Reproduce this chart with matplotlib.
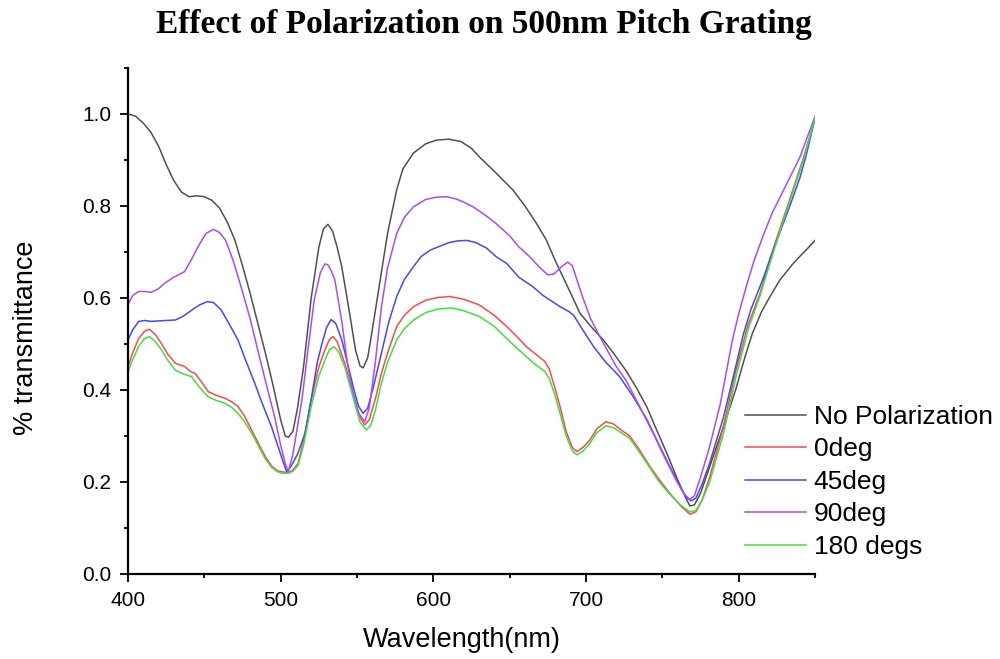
import matplotlib
matplotlib.use('Agg')
import matplotlib.pyplot as plt
from matplotlib.ticker import MultipleLocator

plt.rcParams['font.family'] = ['Liberation Sans', 'DejaVu Sans']

# No Polarization
wl_none = [400, 405, 410, 415, 420, 425, 430, 435, 440, 445, 450, 455, 460, 465, 470, 475, 480, 485, 490, 495,
           500, 503, 505, 508, 511, 515, 520, 525, 528, 531, 534, 537, 540, 545, 549, 552, 554, 557, 560, 565,
           570, 576, 580, 587, 595, 602, 610, 618, 625, 630, 640, 652, 660, 667, 674, 680, 685, 690, 696, 704,
           711, 718, 726, 733, 740, 746, 753, 760, 765, 768, 771, 775, 781, 790, 798, 804, 809, 815, 820, 827,
           835, 840, 845, 850]
t_none = [1.0, 0.995, 0.98, 0.96, 0.93, 0.89, 0.855, 0.83, 0.82, 0.822, 0.82, 0.812, 0.795, 0.765, 0.726, 0.67, 0.61, 0.545, 0.48, 0.41,
          0.335, 0.30, 0.297, 0.31, 0.36, 0.45, 0.60, 0.71, 0.75, 0.76, 0.745, 0.71, 0.668, 0.57, 0.487, 0.452, 0.448, 0.47, 0.53, 0.635,
          0.74, 0.835, 0.88, 0.915, 0.935, 0.943, 0.945, 0.94, 0.925, 0.907, 0.875, 0.835, 0.80, 0.765, 0.726, 0.68, 0.645, 0.61, 0.567, 0.535,
          0.51, 0.48, 0.443, 0.405, 0.362, 0.315, 0.262, 0.205, 0.168, 0.148, 0.15, 0.175, 0.233, 0.32, 0.40, 0.47, 0.523, 0.57, 0.60, 0.639,
          0.672, 0.69, 0.707, 0.725]

# 0deg
wl_0 = [400, 403, 407, 411, 414, 418, 422, 426, 431, 437, 441, 444, 448, 452.6, 458, 463.5, 468, 472, 476, 481,
        486, 490, 494, 498, 501, 505, 508, 511.5, 515, 520, 525, 529, 532, 534.4, 537, 542, 548.6, 552, 555, 558,
        562, 566, 570, 576, 581, 587, 595, 603, 611, 620, 630, 640, 648, 655, 661, 667, 673, 676, 680, 683,
        687, 691, 694, 698, 702.5, 707, 713, 718, 723, 728.6, 735, 742, 748, 755, 762, 768, 772, 776, 781, 790,
        798, 806, 814, 820, 828, 835, 842, 850]
t_0 = [0.451, 0.48, 0.512, 0.528, 0.532, 0.52, 0.50, 0.478, 0.458, 0.451, 0.44, 0.436, 0.418, 0.396, 0.388, 0.382, 0.374, 0.364, 0.345, 0.313,
       0.28, 0.255, 0.235, 0.224, 0.222, 0.22, 0.226, 0.241, 0.29, 0.378, 0.45, 0.487, 0.51, 0.516, 0.505, 0.458, 0.378, 0.34, 0.324, 0.335,
       0.38, 0.436, 0.48, 0.538, 0.562, 0.581, 0.595, 0.601, 0.603, 0.597, 0.585, 0.562, 0.538, 0.515, 0.494, 0.478, 0.462, 0.445, 0.40, 0.364,
       0.31, 0.275, 0.266, 0.275, 0.291, 0.315, 0.331, 0.326, 0.313, 0.30, 0.27, 0.233, 0.205, 0.175, 0.148, 0.13, 0.135, 0.16, 0.21, 0.32,
       0.44, 0.54, 0.61, 0.68, 0.76, 0.83, 0.90, 0.99]

# 45deg
wl_45 = [400, 403, 407, 411, 415, 420, 425, 431, 436, 442, 447, 452, 456, 461, 466, 472, 477, 483, 488, 494,
         498, 502, 504, 507, 511, 516, 520, 524, 527, 530, 533, 536, 540, 544, 548.6, 551, 554, 557, 561, 566,
         571, 576, 581, 587, 592, 598, 604, 610, 616, 622, 628, 635, 641, 648, 656, 665, 672, 678, 683, 689,
         692, 697, 705, 713, 722, 731, 740, 748, 755, 762, 766, 769, 772, 776, 781, 790, 798, 803, 808, 814,
         818, 825, 833, 840, 844, 850]
t_45 = [0.509, 0.53, 0.549, 0.551, 0.549, 0.55, 0.551, 0.552, 0.56, 0.574, 0.585, 0.592, 0.59, 0.574, 0.545, 0.509, 0.465, 0.415, 0.37, 0.32,
        0.28, 0.24, 0.222, 0.235, 0.26, 0.306, 0.38, 0.46, 0.50, 0.535, 0.553, 0.545, 0.509, 0.455, 0.393, 0.365, 0.349, 0.36, 0.41, 0.48,
        0.55, 0.603, 0.64, 0.668, 0.69, 0.704, 0.712, 0.72, 0.724, 0.725, 0.72, 0.708, 0.69, 0.675, 0.645, 0.625, 0.605, 0.592, 0.581, 0.57,
        0.562, 0.535, 0.494, 0.46, 0.429, 0.385, 0.335, 0.28, 0.233, 0.188, 0.165, 0.159, 0.165, 0.195, 0.241, 0.34, 0.45, 0.52, 0.575, 0.625,
        0.66, 0.725, 0.795, 0.86, 0.907, 0.99]

# 90deg
wl_90 = [400, 403, 407, 411, 415, 420, 424, 430, 437, 441, 446, 451, 456, 460, 464, 469, 474, 480, 485, 490,
         496, 500, 503, 505, 508, 511, 514, 518, 522, 526, 529, 531, 533, 535.5, 540, 544, 548, 551, 555, 558,
         562, 566, 570, 576, 581, 587, 595, 602, 609, 615, 620, 626, 634, 641, 650, 656, 663, 670, 675, 679,
         684, 688, 691, 694, 698, 703, 709, 715, 720, 726, 735, 744, 752, 759, 764, 768, 771, 775, 781, 788,
         792, 796, 800, 805, 810, 816, 822, 828, 834, 840, 845, 850]
t_90 = [0.585, 0.605, 0.614, 0.614, 0.612, 0.62, 0.632, 0.645, 0.657, 0.68, 0.712, 0.74, 0.749, 0.742, 0.725, 0.68, 0.625, 0.555, 0.487, 0.42,
        0.342, 0.28, 0.24, 0.222, 0.26, 0.32, 0.38, 0.49, 0.596, 0.655, 0.674, 0.672, 0.66, 0.639, 0.55, 0.451, 0.385, 0.35, 0.331, 0.36,
        0.46, 0.58, 0.665, 0.74, 0.775, 0.798, 0.814, 0.819, 0.82, 0.815, 0.808, 0.798, 0.78, 0.762, 0.735, 0.711, 0.69, 0.665, 0.65, 0.652,
        0.668, 0.678, 0.67, 0.64, 0.60, 0.555, 0.516, 0.48, 0.45, 0.422, 0.365, 0.306, 0.25, 0.204, 0.175, 0.162, 0.17, 0.21, 0.277, 0.37,
        0.44, 0.51, 0.565, 0.625, 0.68, 0.735, 0.785, 0.825, 0.865, 0.905, 0.95, 0.994]

# 180 degs
wl_180 = [400, 403, 407, 411, 414, 418, 422, 426, 431, 436, 441.7, 447, 452.6, 458, 463.5, 468, 472, 476, 481, 486,
          490, 494, 498, 501, 505, 508, 511.5, 515, 520, 525, 529, 532, 535, 538, 542, 548.6, 552, 556, 559, 562,
          566, 570, 576, 581, 587, 595, 603, 612, 620, 630, 640, 648, 655, 661, 667, 673, 676, 680, 683, 687,
          691, 694, 698, 702.5, 707, 713, 718, 723, 728.6, 735, 742, 748, 755, 762, 768, 772, 776, 781, 790, 798,
          806, 814, 820, 828, 835, 842, 850]
t_180 = [0.44, 0.465, 0.495, 0.512, 0.516, 0.505, 0.487, 0.465, 0.443, 0.435, 0.429, 0.405, 0.385, 0.377, 0.371, 0.362, 0.349, 0.333, 0.306, 0.275,
         0.25, 0.232, 0.222, 0.219, 0.219, 0.223, 0.237, 0.28, 0.364, 0.43, 0.465, 0.488, 0.494, 0.483, 0.45, 0.37, 0.33, 0.313, 0.323, 0.355,
         0.415, 0.46, 0.509, 0.533, 0.552, 0.568, 0.576, 0.578, 0.572, 0.56, 0.538, 0.512, 0.49, 0.472, 0.455, 0.44, 0.425, 0.385, 0.349, 0.30,
         0.268, 0.259, 0.267, 0.284, 0.307, 0.322, 0.318, 0.307, 0.295, 0.265, 0.23, 0.20, 0.173, 0.15, 0.135, 0.138, 0.16, 0.20, 0.305, 0.425,
         0.53, 0.605, 0.67, 0.755, 0.825, 0.895, 0.99]

fig = plt.figure(figsize=(10, 6.59), dpi=100)
ax = fig.add_axes([0.128, 0.129, 0.687, 0.768])

ax.plot(wl_none, t_none, color='#505050', lw=1.1, label='No Polarization')
ax.plot(wl_0, t_0, color='#ff4848', lw=1.1, label='0deg')
ax.plot(wl_45, t_45, color='#4646ff', lw=1.1, label='45deg')
ax.plot(wl_90, t_90, color='#a64bff', lw=1.1, label='90deg')
ax.plot(wl_180, t_180, color='#3ee03e', lw=1.1, label='180 degs')

ax.set_xlim(400, 850)
ax.set_ylim(0, 1.1)
ax.xaxis.set_major_locator(MultipleLocator(100))
ax.xaxis.set_minor_locator(MultipleLocator(50))
ax.yaxis.set_major_locator(MultipleLocator(0.2))
ax.yaxis.set_minor_locator(MultipleLocator(0.1))
ax.yaxis.set_major_formatter(plt.FormatStrFormatter('%.1f'))

for side in ['top', 'right']:
    ax.spines[side].set_visible(False)
for side in ['left', 'bottom']:
    ax.spines[side].set_linewidth(1.6)
ax.tick_params(which='major', direction='out', length=6, width=1.3, labelsize=15, pad=6)
ax.tick_params(which='minor', direction='out', length=3, width=1.3)

ax.set_xlabel('Wavelength(nm)', fontsize=19.5)
ax.set_ylabel('% transmittance', fontsize=19.5)
ax.xaxis.set_label_coords(0.486, -0.105)
ax.yaxis.set_label_coords(-0.13, 0.466)

fig.text(0.484, 0.963, 'Effect of Polarization on 500nm Pitch Grating', ha='center', va='center',
         family='Liberation Serif', weight='bold', fontsize=24)

ax.legend(loc='lower left', bbox_to_anchor=(0.745, 0.152), bbox_transform=fig.transFigure,
          frameon=False, fontsize=19, handlelength=2.3, handletextpad=0.3, labelspacing=0.32,
          borderpad=0, borderaxespad=0)

plt.savefig('out.png', dpi=100)
